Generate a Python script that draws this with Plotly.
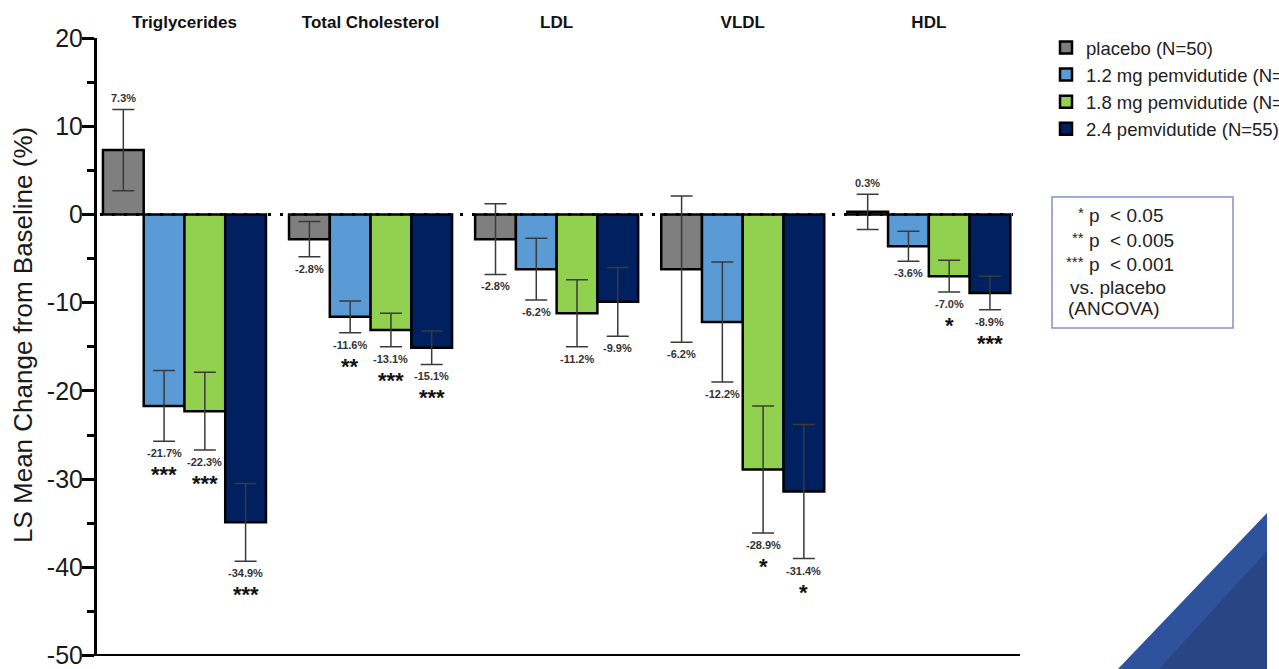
import plotly.graph_objects as go

categories = ["Triglycerides", "Total Cholesterol", "LDL", "VLDL", "HDL"]
series_names = ["placebo (N=50)", "1.2 mg pemvidutide (N=53)",
                "1.8 mg pemvidutide (N=50)", "2.4 pemvidutide (N=55)"]
colors = ["#7f7f7f", "#5b9bd5", "#92d050", "#002060"]

placebo = [7.3, -2.8, -2.8, -6.2, 0.3]
mg12 = [-21.7, -11.6, -6.2, -12.2, -3.6]
mg18 = [-22.3, -13.1, -11.2, -28.9, -7.0]
mg24 = [-34.9, -15.1, -9.9, -31.4, -8.9]

err_placebo = [4.6, 2.0, 4.0, 8.3, 2.0]
err_12 = [4.0, 1.8, 3.5, 6.8, 1.7]
err_18 = [4.4, 1.9, 3.8, 7.2, 1.8]
err_24 = [4.4, 1.9, 3.9, 7.6, 1.9]

stars_placebo = ["", "", "", "", ""]
stars_12 = ["***", "**", "", "", ""]
stars_18 = ["***", "***", "", "*", "*"]
stars_24 = ["***", "***", "", "*", "***"]

tick_vals = [20, 10, 0, -10, -20, -30, -40, -50]
tick_text = ["20", "10", "0", "-10", "-20", "-30", "-40", "-50"]

values = [placebo, mg12, mg18, mg24]
errors = [err_placebo, err_12, err_18, err_24]
stars = [stars_placebo, stars_12, stars_18, stars_24]

FONT = "Liberation Sans, Arial, sans-serif"
W, H = 1279, 669
L, R, T, B = 97, 1020, 38, 656
BARGAP = 0.124

def px_x(p):
    return (p - L) / (R - L)

def px_y(p):
    return (B - p) / (B - T)

fig = go.Figure()
for name, col, v, e in zip(series_names, colors, values, errors):
    fig.add_trace(go.Bar(
        x=categories, y=v, name=name, legendgroup=name,
        marker=dict(color=col, line=dict(color="black", width=2.5)),
        error_y=dict(type="data", array=e, visible=True, color="#3a3a3a",
                     thickness=1.5, width=11),
    ))

ann = []
nser = len(values)
bw = (1 - BARGAP) / nser
for si in range(nser):
    for ci, cat in enumerate(categories):
        v = values[si][ci]
        e = errors[si][ci]
        xpos = ci + (si - (nser - 1) / 2) * bw
        label = f"{v:.1f}%"
        if v >= 0:
            ann.append(dict(x=xpos, y=v + e, xref="x", yref="y", text=f"<b>{label}</b>",
                            showarrow=False, yanchor="bottom", yshift=3,
                            font=dict(size=11, color="#333333", family=FONT)))
        else:
            ann.append(dict(x=xpos, y=v - e, xref="x", yref="y", text=f"<b>{label}</b>",
                            showarrow=False, yanchor="top", yshift=-4,
                            font=dict(size=11, color="#333333", family=FONT)))
            s = stars[si][ci]
            if s:
                ann.append(dict(x=xpos, y=v - e, xref="x", yref="y", text=f"<b>{s}</b>",
                                showarrow=False, yanchor="top", yshift=-19,
                                font=dict(size=22, color="#111111", family=FONT)))

# y-axis title
ann.append(dict(x=px_x(23), y=px_y(335), xref="paper", yref="paper",
                text="LS Mean Change from Baseline (%)", textangle=-90, showarrow=False,
                xanchor="center", yanchor="middle",
                font=dict(size=26, color="#1a1a1a", family=FONT)))

# significance box text
box_lines = [("*", "p  < 0.05", 215), ("**", "p  < 0.005", 240), ("***", "p  < 0.001", 264)]
for st, txt, yy in box_lines:
    ann.append(dict(x=px_x(1086), y=px_y(yy - 3), xref="paper", yref="paper", text=st,
                    showarrow=False, xanchor="right", yanchor="middle",
                    font=dict(size=15, color="#222222", family=FONT)))
    ann.append(dict(x=px_x(1087), y=px_y(yy), xref="paper", yref="paper", text=txt,
                    showarrow=False, xanchor="left", yanchor="middle",
                    font=dict(size=19, color="#222222", family=FONT)))
ann.append(dict(x=px_x(1118), y=px_y(287), xref="paper", yref="paper", text="vs. placebo",
                showarrow=False, xanchor="center", yanchor="middle",
                font=dict(size=19, color="#222222", family=FONT)))
ann.append(dict(x=px_x(1113), y=px_y(309), xref="paper", yref="paper", text="(ANCOVA)",
                showarrow=False, xanchor="center", yanchor="middle",
                font=dict(size=19, color="#222222", family=FONT)))

shapes = [
    # bottom axis line
    dict(type="line", xref="paper", x0=0, x1=1, yref="y", y0=-50, y1=-50,
         line=dict(color="black", width=3), layer="above"),
    # dotted zero line
    dict(type="line", xref="paper", x0=px_x(100), x1=px_x(1013), yref="y", y0=0, y1=0,
         line=dict(color="black", width=3, dash="3px,9px"), layer="above"),
    # significance box
    dict(type="rect", xref="paper", yref="paper", x0=px_x(1052), x1=px_x(1233),
         y0=px_y(328), y1=px_y(197), line=dict(color="#8592c4", width=1.5),
         fillcolor="rgba(0,0,0,0)"),
    # decorative corner triangles
    dict(type="path", xref="paper", yref="paper",
         path=f"M {px_x(1117)} {px_y(670)} L {px_x(1267)} {px_y(513)} L {px_x(1267)} {px_y(670)} Z",
         fillcolor="#2e539c", line=dict(width=0)),
    dict(type="path", xref="paper", yref="paper",
         path=f"M {px_x(1158)} {px_y(670)} L {px_x(1267)} {px_y(551)} L {px_x(1267)} {px_y(670)} Z",
         fillcolor="#2a4583", line=dict(width=0)),
]

fig.update_layout(
    width=W, height=H,
    margin=dict(l=L, r=W - R, t=T, b=H - B, autoexpand=False),
    paper_bgcolor="white", plot_bgcolor="white",
    barmode="group", bargap=BARGAP, bargroupgap=0,
    font=dict(family=FONT, color="#1a1a1a"),
    showlegend=True,
    legend=dict(x=px_x(1046), y=px_y(29), xanchor="left", yanchor="top",
                font=dict(size=18.5, color="#222222", family=FONT),
                bgcolor="rgba(0,0,0,0)", tracegroupgap=0, traceorder="normal"),
    xaxis=dict(type="category", range=[-0.47, 4.49], side="top", showline=False,
               ticks="", showgrid=False, zeroline=False, ticklabelstandoff=6,
               tickfont=dict(size=17, weight="bold", color="#111111", family=FONT)),
    yaxis=dict(range=[-50.05, 20], tickmode="array", tickvals=tick_vals, ticktext=tick_text,
               ticks="outside", ticklen=12, tickwidth=3,
               tickcolor="black", showline=True, linewidth=3, linecolor="black",
               showgrid=False, zeroline=False, ticklabelstandoff=-6,
               ticklabeloverflow="allow",
               tickfont=dict(size=25, color="#1a1a1a", family=FONT),
               minor=dict(tickmode="linear", tick0=-45, dtick=10, ticks="outside", ticklen=7,
                          tickwidth=3, tickcolor="black")),
    annotations=ann,
    shapes=shapes,
)

fig.write_html("out.html")
